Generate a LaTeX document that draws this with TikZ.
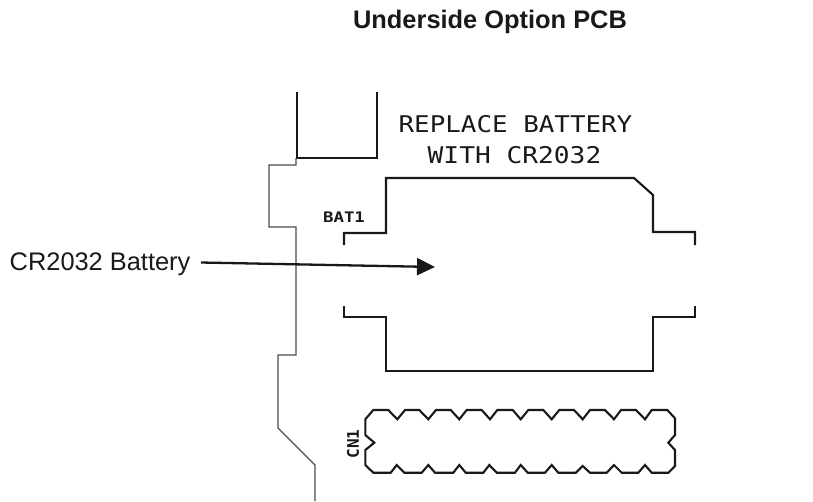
\documentclass[tikz,border=0pt]{standalone}
\usepackage{fontspec}
\setmainfont{Liberation Sans}
\newfontfamily\plotfont{DejaVu Sans Mono}
\usetikzlibrary{arrows.meta}
\tikzset{
  trace/.style={draw=black!90,line width=2.1pt,line join=miter},
  outline/.style={draw=black!70,line width=1.1pt},
  plottext/.style={inner sep=0pt,font=\plotfont,text=black!90},
  lbl/.style={inner sep=0pt,text=black!90}
}
\begin{document}
\begin{tikzpicture}[x=1pt,y=-1pt]
\useasboundingbox (0,0) rectangle (813,501);
% captions
\node[lbl,font=\bfseries\fontsize{25.4}{28}\selectfont] (title) at (490,22) {Underside Option PCB};
\node[lbl,font=\fontsize{25.4}{28}\selectfont,anchor=west] (cap) at (9.5,264) {CR2032 Battery};
% board outline
\draw[outline] (296,158) -- (296,165) -- (269,165) -- (269,227) -- (296,227) -- (296,355)
  -- (278,355) -- (278,428) -- (315,465) -- (315,501);
% upper part
\draw[trace] (297,92) -- (297,158) -- (377,158) -- (377,92);
% battery holder
\draw[trace] (344,245) -- (344,233) -- (386,233) -- (386,178) -- (634,178) -- (653,195)
  -- (653,232) -- (695,232) -- (695,245);
\draw[trace] (695,306) -- (695,317) -- (653,317) -- (653,371) -- (386,371) -- (386,317)
  -- (344,317) -- (344,306);
% connector CN1
\draw[trace] (365.3,419.3)
  -- (373.3,410) -- (388.3,410) -- (397.3,419.3) -- (405,410) -- (419.3,410) -- (428.3,419.3)
  -- (436,410) -- (450.7,410) -- (459.3,419.3) -- (466.7,410) -- (481.7,410) -- (490,419.3)
  -- (497.3,410) -- (512.7,410) -- (520.7,419.3) -- (528.3,410) -- (543.3,410) -- (551.7,419.3)
  -- (559.3,410) -- (574,410) -- (582.7,419.3) -- (590,410) -- (605,410) -- (614,419.3)
  -- (621,410) -- (636,410) -- (645,419.3) -- (651.7,410) -- (667.3,410) -- (675,418.3)
  -- (675,435) -- (668.3,442.7) -- (675,450) -- (675,466) -- (668.3,472.7) -- (651.7,472.7)
  -- (645,465) -- (638.3,472.7) -- (621.7,472.7) -- (614,465) -- (606.7,472.7) -- (590,472.7)
  -- (582.7,466) -- (576,472.7) -- (558.3,472.7) -- (551.7,465) -- (545,472.7) -- (527.7,472.7)
  -- (520.7,465) -- (515,472.7) -- (496.7,472.7) -- (489.3,465) -- (483.3,472.7) -- (465.7,472.7)
  -- (459.3,465) -- (453.3,472.7) -- (435,472.7) -- (428.3,465) -- (421.7,472.7) -- (404.3,472.7)
  -- (396.7,465) -- (390.7,472.7) -- (373.3,472.7) -- (365.3,465) -- (365.3,450) -- (374.3,442.7)
  -- (365.3,435) -- cycle;
% plotted text
\node[plottext,font=\plotfont\fontsize{23}{27}\selectfont] (r1) at (515.5,124) {\scalebox{1.125}[1]{REPLACE BATTERY}};
\node[plottext,font=\plotfont\fontsize{23}{27}\selectfont] (r2) at (514.5,155) {\scalebox{1.14}[1]{WITH CR2032}};
\node[plottext,font=\plotfont\bfseries\fontsize{14.5}{16}\selectfont] (bat) at (344,217) {\scalebox{1.2}[1]{BAT1}};
\node[plottext,font=\plotfont\bfseries\fontsize{16}{18}\selectfont,rotate=90] (cn) at (353,444) {CN1};
% arrow
\coordinate (tip) at (435,267);
\coordinate (start) at (201,262.5);
\draw[line width=2.3pt,draw=black!90,-{Triangle[length=18pt,width=17pt]}] (start) -- (tip);
\end{tikzpicture}
\end{document}
